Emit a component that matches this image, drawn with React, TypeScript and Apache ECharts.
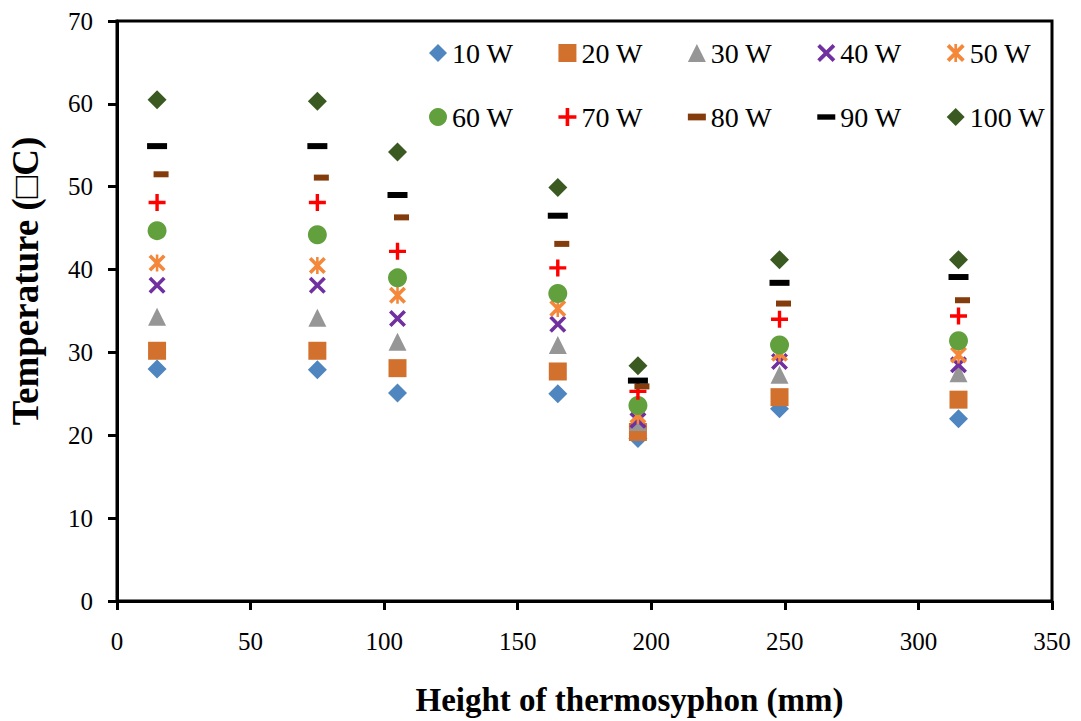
import React, { useEffect, useRef } from "react";
import * as echarts from "echarts";

const heights = [15, 75, 105, 165, 195, 248, 315];
const seriesNames = ["10 W", "20 W", "30 W", "40 W", "50 W", "60 W", "70 W", "80 W", "90 W", "100 W"];
const w10 = [28.0, 27.9, 25.1, 25.0, 19.6, 23.2, 22.0];
const w20 = [30.2, 30.2, 28.1, 27.7, 20.4, 24.6, 24.3];
const w30 = [34.3, 34.2, 31.3, 30.9, 21.6, 27.3, 27.5];
const w40 = [38.1, 38.1, 34.1, 33.4, 21.8, 28.9, 28.5];
const w50 = [40.8, 40.5, 36.9, 35.3, 22.4, 29.9, 29.7];
const w60 = [44.7, 44.2, 39.0, 37.1, 23.6, 30.9, 31.4];
const w70 = [48.1, 48.1, 42.2, 40.2, 25.3, 34.0, 34.4];
const w80 = [51.5, 51.1, 46.3, 43.1, 25.9, 35.9, 36.3];
const w90 = [54.9, 54.9, 49.0, 46.5, 26.6, 38.4, 39.1];
const w100 = [60.5, 60.3, 54.2, 49.9, 28.4, 41.2, 41.2];
const allValues = [w10, w20, w30, w40, w50, w60, w70, w80, w90, w100];

const xTitle = "Height of thermosyphon (mm)";
const yTitle = "Temperature (□C)";

const X_PATH = "path://M3,0 L10,7 L17,0 L20,3 L13,10 L20,17 L17,20 L10,13 L3,20 L0,17 L7,10 L0,3 Z";
const STAR_PATH =
  "path://M3,0 L10,7 L17,0 L20,3 L13,10 L20,17 L17,20 L10,13 L3,20 L0,17 L7,10 L0,3 Z M8.5,0 L11.5,0 L11.5,20 L8.5,20 Z";
const PLUS_PATH = "path://M8,0 H12 V8 H20 V12 H12 V20 H8 V12 H0 V8 H8 Z";
const DASH80_PATH = "path://M0,0 H16 V6 H0 Z";
const DASH90_PATH = "path://M0,0 H20 V6 H0 Z";

const styles = [
  { symbol: "diamond", size: 19, color: "#4F86BF", offset: [0, 0] },
  { symbol: "rect", size: 18, color: "#D2702E", offset: [0, 0] },
  { symbol: "triangle", size: 18, color: "#969696", offset: [0, 0] },
  { symbol: X_PATH, size: 17, color: "#7030A0", offset: [0, 0] },
  { symbol: STAR_PATH, size: 17, color: "#F4873A", offset: [0, 0] },
  { symbol: "circle", size: 19, color: "#62A03E", offset: [0, 0] },
  { symbol: PLUS_PATH, size: 17, color: "#FF0000", offset: [0, 0] },
  { symbol: DASH80_PATH, size: [15, 6], color: "#843C0C", offset: [4, 0] },
  { symbol: DASH90_PATH, size: [20, 6], color: "#000000", offset: [0, 0] },
  { symbol: "diamond", size: 19, color: "#3A5A22", offset: [0, 0] },
];

const FONT = "'Liberation Serif', 'Times New Roman', serif";

export default function App() {
  const ref = useRef<HTMLDivElement>(null);
  useEffect(() => {
    if (!ref.current) return;
    const chart = echarts.init(ref.current, null, { renderer: "svg" });
    const series = seriesNames.map((name, i) => ({
      name,
      type: "scatter",
      symbol: styles[i].symbol,
      symbolSize: styles[i].size,
      symbolOffset: styles[i].offset,
      itemStyle: { color: styles[i].color, opacity: 1 },
      z: 2 + i,
      data: heights.map((h, j) => [h, allValues[i][j]]),
    }));
    const legendCommon = {
      itemWidth: 18,
      itemHeight: 18,
      itemGap: 45,
      textStyle: { fontFamily: FONT, fontSize: 28, color: "#000" },
    };
    chart.setOption({
      animation: false,
      grid: {
        left: 117,
        right: 29,
        top: 21,
        bottom: 120,
        show: true,
        borderColor: "#000",
        borderWidth: 3,
        backgroundColor: "transparent",
        outerBoundsMode: "none",
        containLabel: false,
      },
      legend: [
        {
          ...legendCommon,
          left: 424,
          top: 34,
          data: seriesNames.slice(0, 5),
        },
        {
          ...legendCommon,
          left: 424,
          top: 98,
          data: seriesNames.slice(5, 10),
        },
      ],
      xAxis: {
        type: "value",
        min: 0,
        max: 350,
        interval: 50,
        name: xTitle,
        nameLocation: "middle",
        nameGap: 82,
        nameTextStyle: { fontFamily: FONT, fontSize: 33, fontWeight: "bold", color: "#000", padding: [0, 0, 0, 90] },
        axisLine: { lineStyle: { color: "#000", width: 3 } },
        axisTick: { show: true, inside: false, length: 9, lineStyle: { color: "#000", width: 3 } },
        axisLabel: { fontFamily: FONT, fontSize: 25, color: "#000", margin: 28 },
        splitLine: { show: false },
      },
      yAxis: {
        type: "value",
        min: 0,
        max: 70,
        interval: 10,
        name: yTitle,
        nameLocation: "middle",
        nameGap: 73,
        nameTextStyle: { fontFamily: FONT, fontSize: 37, fontWeight: "bold", color: "#000", padding: [0, 0, 0, 60] },
        axisLine: { lineStyle: { color: "#000", width: 3 } },
        axisTick: { show: true, inside: false, length: 9, lineStyle: { color: "#000", width: 3 } },
        axisLabel: { fontFamily: FONT, fontSize: 25, color: "#000", margin: 24 },
        splitLine: { show: false },
      },
      series,
    });
    return () => chart.dispose();
  }, []);
  return <div ref={ref} style={{ width: 1081, height: 721, position: "absolute", left: 0, top: 0 }} />;
}
